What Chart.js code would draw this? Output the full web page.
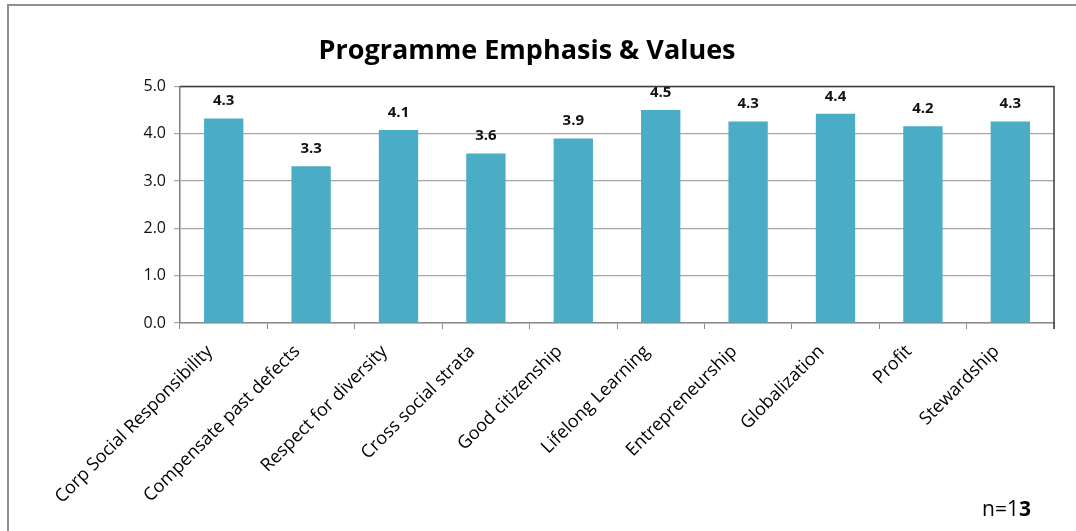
<!DOCTYPE html>
<html>
<head>
<meta charset="utf-8">
<script src="https://cdn.jsdelivr.net/npm/chart.js@4.4.0/dist/chart.umd.min.js"></script>
<style>
  body { margin: 0; background: #fff; }
  #wrap { position: relative; width: 1076px; height: 531px; }
  #frame { position: absolute; left: 7px; top: 4px; right: 0; bottom: 0;
           border-top: 2px solid #8f8f8f; border-left: 2px solid #8f8f8f; }
  #note { position: absolute; left: 982px; top: 494px; font: 21px "Open Sans", sans-serif; color: #000; }
</style>
</head>
<body>
<div id="wrap">
  <div id="frame"></div>
  <canvas id="barChart" width="1076" height="531"></canvas>
  <div id="note">n=1<b>3</b></div>
</div>
<script>
var categories = ['Corp Social Responsibility', 'Compensate past defects', 'Respect for diversity',
  'Cross social strata', 'Good citizenship', 'Lifelong Learning', 'Entrepreneurship',
  'Globalization', 'Profit', 'Stewardship']
var scores = [4.32, 3.31, 4.08, 3.58, 3.9, 4.5, 4.26, 4.42, 4.16, 4.26]
var yTicks = [0, 1, 2, 3, 4, 5]

var fontName = '"Open Sans", sans-serif'

// value labels above each bar + dark top/right frame of the plot
var barLabels = {
    id: 'barLabels',
    afterDatasetsDraw: function(chart) {
        var ctx = chart.ctx
        var meta = chart.getDatasetMeta(0)
        ctx.save()
        ctx.font = 'bold 15px ' + fontName
        ctx.fillStyle = '#111'
        ctx.textAlign = 'center'
        ctx.textBaseline = 'bottom'
        for (var i = 0; i < meta.data.length; i++) {
            var bar = meta.data[i]
            ctx.fillText(scores[i].toFixed(1), bar.x, bar.y - 10)
        }
        var a = chart.chartArea
        ctx.strokeStyle = '#3c3c3c'
        ctx.lineWidth = 1.5
        ctx.beginPath()
        ctx.moveTo(a.left, a.top)
        ctx.lineTo(a.right, a.top)
        ctx.lineTo(a.right, a.bottom + 6)
        ctx.stroke()
        ctx.restore()
    }
}

new Chart(document.getElementById('barChart'), {
    type: 'bar',
    data: {
        labels: categories,
        datasets: [{
            data: scores,
            backgroundColor: '#4bacc6',
            barPercentage: 0.9,
            categoryPercentage: 0.5
        }]
    },
    options: {
        responsive: false,
        animation: false,
        layout: { padding: { left: 0, right: 22, top: 0, bottom: 0 } },
        plugins: {
            legend: { display: false },
            tooltip: { enabled: false },
            title: {
                display: true,
                text: 'Programme Emphasis & Values',
                color: '#000',
                font: { family: fontName, size: 27, weight: 'bold' },
                padding: { top: 35, bottom: 19 }
            }
        },
        scales: {
            x: {
                grid: { offset: true, drawOnChartArea: false, drawTicks: true, tickLength: 6, color: '#8c8c8c' },
                border: { color: '#8c8c8c', width: 1.5 },
                ticks: {
                    color: '#000',
                    font: { family: fontName, size: 18 },
                    minRotation: 45, maxRotation: 45,
                    padding: 12,
                    labelOffset: -14
                },
                afterFit: function(scale) { scale.height = 208 }
            },
            y: {
                min: 0, max: 5,
                afterBuildTicks: function(scale) {
                    scale.ticks = yTicks.map(function(v) { return { value: v } })
                },
                grid: { color: '#a6a6a6', lineWidth: 1.2, tickLength: 6 },
                border: { color: '#7f7f7f', width: 1.5 },
                ticks: {
                    color: '#111',
                    font: { family: fontName, size: 16 },
                    padding: 8,
                    callback: function(v) { return Number(v).toFixed(1) }
                },
                afterFit: function(scale) { scale.width = 180 }
            }
        }
    },
    plugins: [barLabels]
})
</script>
</body>
</html>
